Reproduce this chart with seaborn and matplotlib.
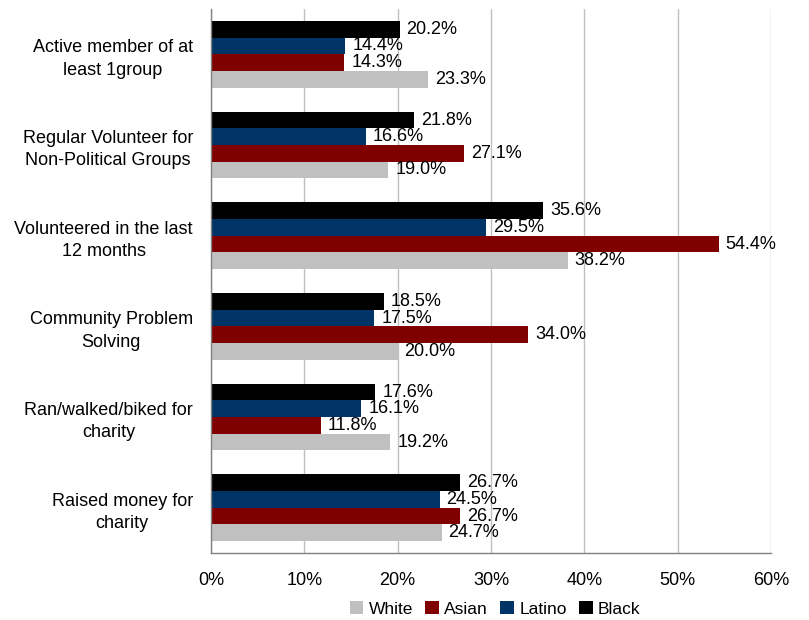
import pandas as pd
import seaborn as sns
import matplotlib.pyplot as plt
from matplotlib.ticker import FixedLocator, PercentFormatter
from matplotlib.patches import Patch

categories = [
    "Active member of at\nleast 1group",
    "Regular Volunteer for\nNon-Political Groups",
    "Volunteered in the last\n12 months",
    "Community Problem\nSolving",
    "Ran/walked/biked for\ncharity",
    "Raised money for\ncharity",
]
black = [20.2, 21.8, 35.6, 18.5, 17.6, 26.7]
latino = [14.4, 16.6, 29.5, 17.5, 16.1, 24.5]
asian = [14.3, 27.1, 54.4, 34.0, 11.8, 26.7]
white = [23.3, 19.0, 38.2, 20.0, 19.2, 24.7]

groups = ["Black", "Latino", "Asian", "White"]
colors = {"White": "#c0c0c0", "Asian": "#800000", "Latino": "#003366", "Black": "#000000"}
legend_order = ["White", "Asian", "Latino", "Black"]

rows = []
for name, vals in zip(groups, [black, latino, asian, white]):
    for cat, v in zip(categories, vals):
        rows.append({"category": cat, "group": name, "value": v})
df = pd.DataFrame(rows)

sns.set_style("white")
plt.rcParams["font.family"] = ["Liberation Sans", "DejaVu Sans"]
plt.rcParams["font.size"] = 13
plt.rcParams["text.color"] = "black"
plt.rcParams["xtick.labelcolor"] = "black"
plt.rcParams["ytick.labelcolor"] = "black"

fig, ax = plt.subplots(figsize=(8.09, 6.2), dpi=100)
fig.subplots_adjust(left=0.2608, right=0.953, top=0.9855, bottom=0.108)

sns.barplot(data=df, y="category", x="value", hue="group", hue_order=groups,
            order=categories, palette=colors, orient="h", width=0.735, gap=0,
            saturation=1, legend=False, linewidth=0, ax=ax)

for cont in ax.containers:
    ax.bar_label(cont, labels=[f"{b.get_width():.1f}%" for b in cont],
                 padding=5, fontsize=13, color="black")

ax.set_xlim(0, 60)
ax.set_ylim(len(categories) - 0.5, -0.5)
ax.xaxis.set_major_locator(FixedLocator(range(0, 61, 10)))
ax.xaxis.set_major_formatter(PercentFormatter(decimals=0))
ax.grid(axis="x", color="#c0c0c0", linewidth=1)
ax.set_axisbelow(True)
ax.set_xlabel("")
ax.set_ylabel("")

for s in ["top", "right"]:
    ax.spines[s].set_visible(False)
for s in ["left", "bottom"]:
    ax.spines[s].set_color("#808080")
    ax.spines[s].set_linewidth(1)

ax.tick_params(axis="x", length=5, width=1, color="#808080", pad=9, labelsize=13)
ax.tick_params(axis="y", which="major", length=0, pad=13, labelsize=13)
ax.yaxis.set_minor_locator(FixedLocator([i - 0.5 for i in range(len(categories) + 1)]))
ax.tick_params(axis="y", which="minor", length=5, width=1, color="#808080")
for lbl in ax.get_yticklabels():
    lbl.set_multialignment("center")
    lbl.set_linespacing(1.4)

handles = [Patch(facecolor=colors[g], edgecolor="none") for g in legend_order]
fig.legend(handles, legend_order, loc="lower center", bbox_to_anchor=(0.612, -0.02),
           ncol=4, frameon=False, fontsize=12.5, handlelength=0.8, handleheight=0.8,
           handletextpad=0.3, columnspacing=0.7)

fig.savefig("out.png", dpi=100)
